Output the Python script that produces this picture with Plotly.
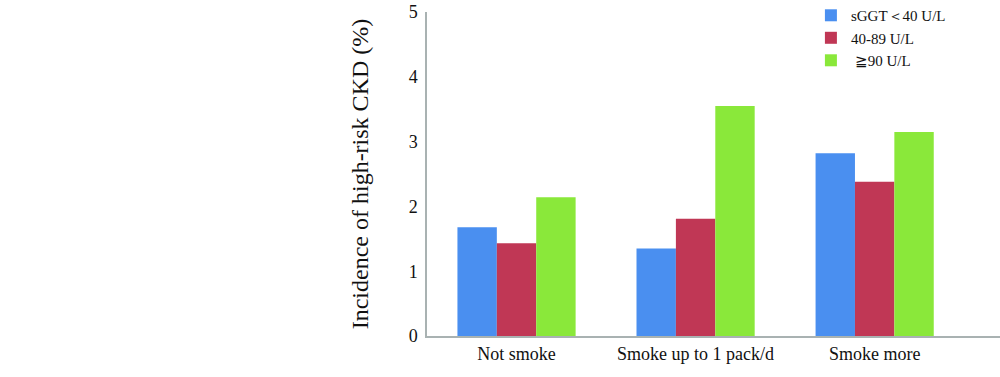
import plotly.graph_objects as go

categories = ["Not smoke", "Smoke up to 1 pack/d", "Smoke more"]
series_names = ["sGGT＜40 U/L", "40-89 U/L", " ≧90 U/L"]
low_ggt = [1.68, 1.35, 2.82]
mid_ggt = [1.43, 1.81, 2.38]
high_ggt = [2.14, 3.55, 3.15]
colors = ["#4A8FF0", "#C03755", "#8AE83A"]
y_ticks = [0, 1, 2, 3, 4, 5]

FONT = "Liberation Serif"

fig = go.Figure()
for name, vals, col in zip(series_names, [low_ggt, mid_ggt, high_ggt], colors):
    fig.add_trace(go.Bar(x=categories, y=vals, name=name, marker_color=col,
                         marker_line_width=0))

fig.update_layout(
    width=1000, height=377,
    margin=dict(l=427, r=0, t=12, b=41, autoexpand=False),
    paper_bgcolor="white", plot_bgcolor="white",
    barmode="group", bargap=0.34, bargroupgap=0,
    font=dict(family=FONT, color="#111111"),
    showlegend=True,
    legend=dict(x=0.670, y=1.04, xanchor="left", yanchor="top",
                font=dict(family=FONT, size=15, color="#111111"),
                itemwidth=30, tracegroupgap=0, bgcolor="rgba(0,0,0,0)"),
    xaxis=dict(type="category", range=[-0.5, 2.7], showgrid=False,
               automargin=False,
               showline=True, linecolor="#A9B2B2", linewidth=2,
               ticks="", tickfont=dict(family=FONT, size=18, color="#111111")),
    yaxis=dict(range=[0, 5], tickvals=y_ticks, showgrid=False, zeroline=False,
               automargin=False, ticklabeloverflow="allow",
               showline=True, linecolor="#A9B2B2", linewidth=1.5,
               ticks="", ticklabelstandoff=4,
               tickfont=dict(family=FONT, size=18, color="#111111"),
               title=dict(text="Incidence of high-risk CKD (%)",
                          font=dict(family=FONT, size=24, color="#111111"),
                          standoff=33)),
)

fig.write_html("out.html",
               config={"displayModeBar": False},
               post_script="document.body.style.margin='0';document.body.style.overflow='hidden';")
